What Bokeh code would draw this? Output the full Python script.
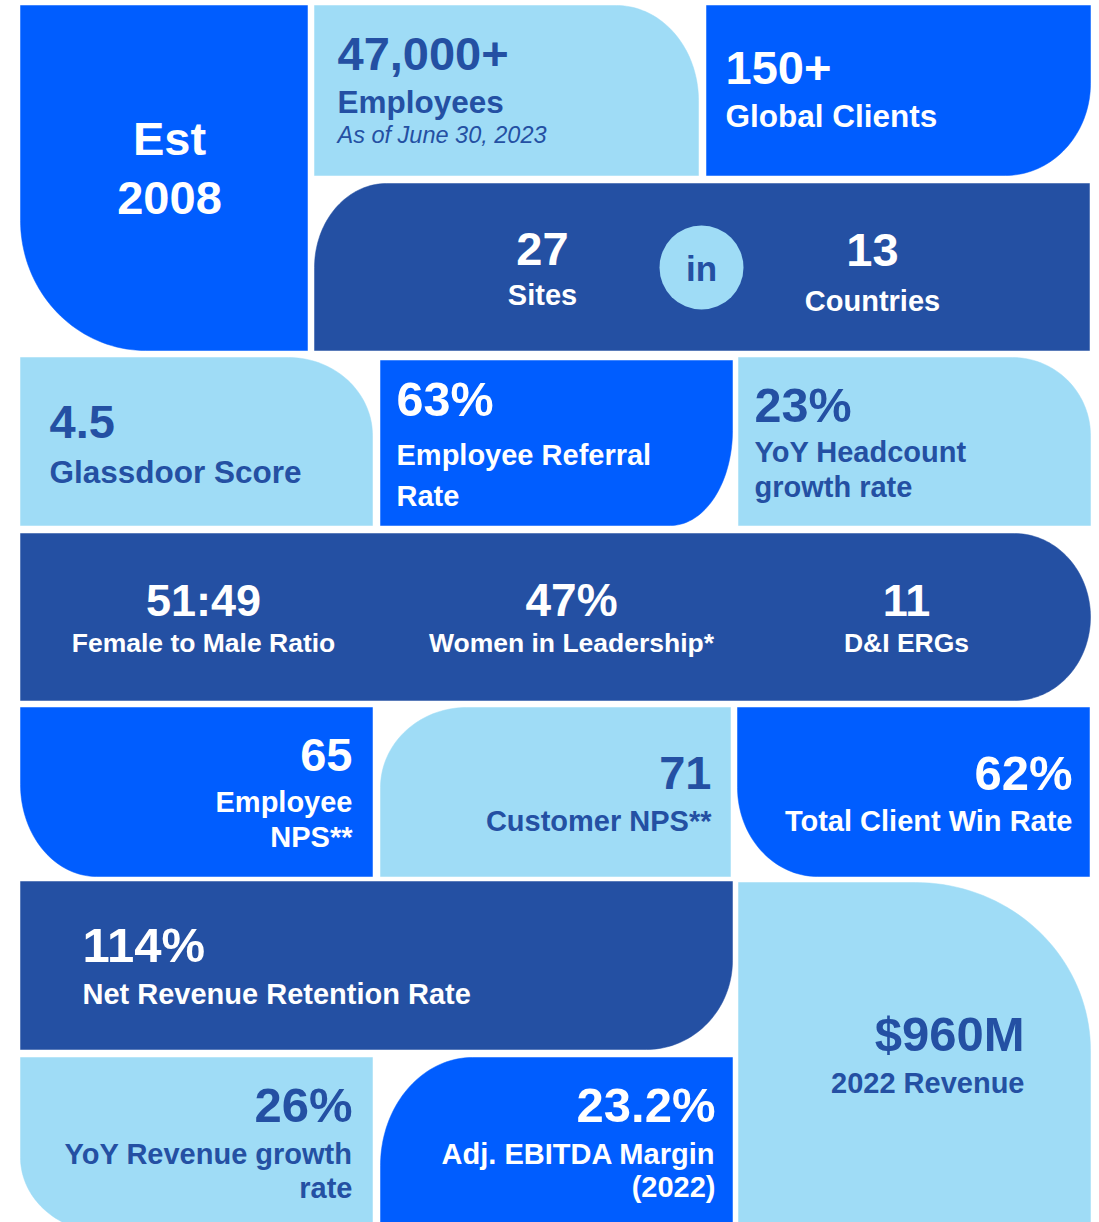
import math
from bokeh.plotting import figure
from bokeh.models import Range1d, ColumnDataSource
from bokeh.core.properties import value
from bokeh.embed import file_html
from bokeh.resources import INLINE

# ---------------- data ----------------
stat_values = ["2008", "47,000+", "150+", "27", "13", "4.5", "63%", "23%",
               "51:49", "47%", "11", "65", "71", "62%", "114%", "$960M", "26%", "23.2%"]
stat_labels = [["Est"], ["Employees"], ["Global Clients"], ["Sites"], ["Countries"],
               ["Glassdoor Score"], ["Employee Referral", "Rate"], ["YoY Headcount", "growth rate"],
               ["Female to Male Ratio"], ["Women in Leadership*"], ["D&I ERGs"],
               ["Employee", "NPS**"], ["Customer NPS**"], ["Total Client Win Rate"],
               ["Net Revenue Retention Rate"], ["2022 Revenue"], ["YoY Revenue growth", "rate"],
               ["Adj. EBITDA Margin", "(2022)"]]
note_text = "As of June 30, 2023"
connector_text = "in"

# ---------------- styles ----------------
BRIGHT = "#005DFF"
LIGHT = "#9FDCF6"
DARK = "#2450A3"
WHITE = "#FFFFFF"
FONT = "Liberation Sans"
NUM = 47      # px
BIG = 49      # px, percentage / money figures
LAB = 29      # px
SHIFT = 0.40  # renderer baseline correction, fraction of font size

# ---------------- layout (page pixel coordinates) ----------------
# tiles: x0, y0, x1, y1, fill, {corner: (rx, ry)}
tiles = [
    (20, 5, 307, 350, BRIGHT, {"bl": (125, 130)}),
    (314, 5, 698, 175, LIGHT, {"tr": (82, 95)}),
    (706, 5, 1090, 175, BRIGHT, {"br": (85, 92)}),
    (314, 183, 1089, 350, DARK, {"tl": (72, 84)}),
    (20, 357, 372, 525, LIGHT, {"tr": (84, 78)}),
    (380, 360, 732, 525, BRIGHT, {"br": (62, 95)}),
    (738, 357, 1090, 525, LIGHT, {"tr": (78, 78)}),
    (20, 533, 1090, 700, DARK, {"tr": (76, 83.5), "br": (76, 83.5)}),
    (20, 707, 372, 876, BRIGHT, {"bl": (76, 92)}),
    (380, 707, 730, 876, LIGHT, {"tl": (86, 80)}),
    (737, 707, 1089, 876, BRIGHT, {"bl": (80, 89)}),
    (20, 881, 732, 1049, DARK, {"br": (86, 89)}),
    (738, 882, 1090, 1240, LIGHT, {"tr": (175, 168)}),
    (20, 1057, 372, 1232, LIGHT, {"bl": (85, 75)}),
    (380, 1057, 732, 1240, BRIGHT, {"tl": (92, 108)}),
]

# stat placement: x, align, value baseline, label baselines, text colour, value size, label size
stat_layout = [
    (169, "center", 216, [157], WHITE, NUM, NUM),
    (337, "left", 72, [114], DARK, NUM, 31.5),
    (725, "left", 86, [128], WHITE, NUM, 31.5),
    (542, "center", 267, [306], WHITE, NUM, LAB),
    (872, "center", 268, [312], WHITE, NUM, LAB),
    (49, "left", 440, [484], DARK, NUM, 31.5),
    (396, "left", 418, [466, 507], WHITE, 48.5, LAB),
    (754, "left", 424, [463, 498], DARK, 48.5, LAB),
    (203, "center", 618, [653], WHITE, 45, 26.5),
    (571, "center", 618, [653], WHITE, 46, 26.5),
    (906, "center", 618, [653], WHITE, 45, 26.5),
    (352, "right", 773, [813, 848], WHITE, NUM, LAB),
    (711, "right", 791, [832], DARK, NUM, LAB),
    (1072, "right", 792, [832], WHITE, BIG, LAB),
    (82, "left", 964, [1005], WHITE, BIG, LAB),
    (1024, "right", 1053, [1094], DARK, BIG, LAB),
    (352, "right", 1124, [1165, 1199], DARK, BIG, LAB),
    (715, "right", 1124, [1165, 1198], WHITE, BIG, LAB),
]
note_pos = (337, 144, 23.5)
circle_pos = (701, 267, 42)
connector_base = (282, 35)


def tile_path(x0, y0, x1, y1, corners, n=40):
    xs, ys = [], []

    def arc(cx, cy, rx, ry, a0, a1):
        for i in range(n + 1):
            t = math.radians(a0 + (a1 - a0) * i / n)
            xs.append(cx + rx * math.cos(t))
            ys.append(cy + ry * math.sin(t))

    if "tl" in corners:
        rx, ry = corners["tl"]
        arc(x0 + rx, y0 + ry, rx, ry, 180, 270)
    else:
        xs.append(x0); ys.append(y0)
    if "tr" in corners:
        rx, ry = corners["tr"]
        arc(x1 - rx, y0 + ry, rx, ry, 270, 360)
    else:
        xs.append(x1); ys.append(y0)
    if "br" in corners:
        rx, ry = corners["br"]
        arc(x1 - rx, y1 - ry, rx, ry, 0, 90)
    else:
        xs.append(x1); ys.append(y1)
    if "bl" in corners:
        rx, ry = corners["bl"]
        arc(x0 + rx, y1 - ry, rx, ry, 90, 180)
    else:
        xs.append(x0); ys.append(y1)
    return xs, ys


W, H = 1099, 1222
p = figure(width=W, height=H, output_backend="svg", toolbar_location=None,
           x_range=Range1d(0, W), y_range=Range1d(H, 0),
           x_axis_type=None, y_axis_type=None, min_border=0)
p.outline_line_color = None
p.grid.visible = False
p.background_fill_color = "white"
p.border_fill_color = "white"

txs, tys, tcols = [], [], []
for (x0, y0, x1, y1, col, corners) in tiles:
    xs, ys = tile_path(x0, y0, x1, y1, corners)
    txs.append(xs); tys.append(ys); tcols.append(col)
p.patches(xs="xs", ys="ys", fill_color="c", line_color="c", line_width=0.5,
          source=ColumnDataSource(dict(xs=txs, ys=tys, c=tcols)))


def put(xs, bases, texts, size, color, align, style="bold"):
    p.text(x=xs, y=[b - SHIFT * size for b in bases], text=texts,
           text_font=value(FONT), text_font_style=style, text_font_size=f"{size}px",
           text_color=color, text_align=align, text_baseline="alphabetic")


# connector circle
cx, cy, cr = circle_pos
p.circle(x=[cx], y=[cy], radius=cr, fill_color=LIGHT, line_color=None)
put([cx], [connector_base[0]], [connector_text], connector_base[1], DARK, "center")

# stats
for val, labs, (x, align, vy, lys, col, vsize, lsize) in zip(stat_values, stat_labels, stat_layout):
    put([x], [vy], [val], vsize, col, align)
    put([x] * len(labs), lys, labs, lsize, col, align)

put([note_pos[0]], [note_pos[1]], [note_text], note_pos[2], DARK, "left", style="italic")

open("out.html", "w").write(file_html(p, INLINE))
